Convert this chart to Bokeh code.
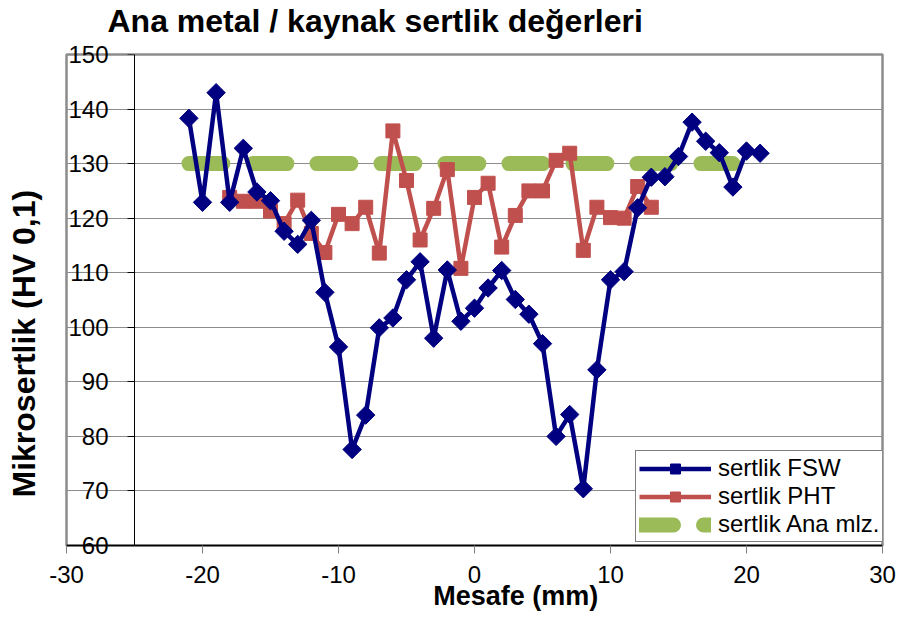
import math
from bokeh.plotting import figure
from bokeh.models import FixedTicker, Legend, LegendItem, Range1d, LinearAxis, Title
from bokeh.embed import file_html
from bokeh.resources import INLINE

# ---- data ----
fsw_x = list(range(-21, 22))
fsw_y = [138.3, 122.9, 143.0, 122.9, 132.8, 124.8, 123.2, 117.6, 115.2, 119.6,
         106.4, 96.4, 77.6, 83.9, 99.9, 101.7, 108.7, 112.0, 98.0, 110.5,
         101.1, 103.5, 107.2, 110.4, 105.1, 102.4, 97.0, 80.0, 84.0, 70.4,
         92.2, 108.7, 110.2, 121.9, 127.5, 127.6, 131.3, 137.6, 134.1, 132.0,
         125.7, 132.3, 131.9]

pht_x = list(range(-18, 14))
pht_y = [123.8, 123.1, 123.1, 121.3, 119.0, 123.3, 117.2, 113.7, 120.7, 119.0,
         122.0, 113.6, 136.0, 126.9, 116.0, 121.8, 128.9, 110.8, 123.8, 126.4,
         114.7, 120.5, 125.0, 125.0, 130.6, 131.9, 114.1, 122.0, 120.1, 120.0,
         125.8, 122.0]

ana_x = list(range(-21, 20))
ana_y = [130.0] * len(ana_x)

x_ticks = [-30, -20, -10, 0, 10, 20, 30]
y_ticks = [60, 70, 80, 90, 100, 110, 120, 130, 140, 150]

title_text = "Ana metal / kaynak sertlik değerleri"
x_label = "Mesafe (mm)"
y_label = "Mikrosertlik (HV 0,1)"
series_names = ["sertlik FSW", "sertlik PHT", "sertlik Ana mlz."]

FONT = "Liberation Sans"
X0, X1, Y0, Y1 = -30, 30, 60, 150
NAVY, RED, GREEN = "#000080", "#C0504D", "#9BBB59"

p = figure(width=898, height=613, output_backend="svg", toolbar_location=None,
           x_range=Range1d(X0, X1), y_range=Range1d(Y0, Y1),
           min_border_left=66, min_border_top=54, min_border_right=16,
           min_border_bottom=67)

p.background_fill_color = "white"
p.border_fill_color = "white"
p.outline_line_color = "#8c8c8c"
p.outline_line_width = 2.5

# spacer between frame and title
p.add_layout(Title(text=" ", text_font=FONT, text_font_size="12px",
                   standoff=0), "above")

# title
p.title.text = title_text
p.title.text_font = FONT
p.title.text_font_size = "32px"
p.title.text_font_style = "bold"
p.title.text_color = "black"
p.title.align = "left"
p.title.offset = 41
p.title.standoff = 0

# grids
p.xgrid.visible = False
p.ygrid.ticker = FixedTicker(ticks=y_ticks)
p.ygrid.grid_line_color = "#8c8c8c"
p.ygrid.grid_line_width = 1

# x axis
xa = p.xaxis[0]
xa.ticker = FixedTicker(ticks=x_ticks)
xa.major_label_overrides = {t: str(t) for t in x_ticks}
xa.axis_line_color = "black"
xa.axis_line_width = 1.5
xa.major_tick_in = 0
xa.major_tick_out = 8
xa.major_tick_line_color = "#808080"
xa.minor_tick_line_color = None
xa.major_label_text_font = FONT
xa.major_label_text_font_size = "24px"
xa.major_label_text_color = "black"
xa.major_label_standoff = 12
xa.axis_label = "\u00a0" * 11 + x_label
xa.axis_label_text_font = FONT
xa.axis_label_text_font_size = "27px"
xa.axis_label_text_font_style = "bold"
xa.axis_label_text_color = "black"
xa.axis_label_standoff = -5

# default left axis: only the tick labels, drawn inside the frame
la = p.yaxis[0]
la.ticker = FixedTicker(ticks=y_ticks)
la.major_label_overrides = {t: str(t) for t in y_ticks}
la.axis_line_color = None
la.major_tick_line_color = None
la.minor_tick_line_color = None
la.major_tick_in = 0
la.major_tick_out = 0
la.major_label_text_font = FONT
la.major_label_text_font_size = "24px"
la.major_label_text_color = "black"
la.major_label_standoff = -42

# y axis line and ticks at x = -25
ya = LinearAxis(fixed_location=-25, ticker=FixedTicker(ticks=y_ticks))
ya.axis_line_color = "black"
ya.axis_line_width = 1
ya.major_tick_in = 0
ya.major_tick_out = 7
ya.major_tick_line_color = "black"
ya.minor_tick_line_color = None
ya.major_label_text_alpha = 0
p.add_layout(ya, "left")

# spacer, then the y axis title
p.add_layout(Title(text=" ", text_font=FONT, text_font_size="20px",
                   standoff=0), "left")
p.add_layout(Title(text=y_label, align="left", offset=48,
                   standoff=0, text_font=FONT, text_font_size="32px",
                   text_font_style="bold", text_color="black"), "left")

# series
ana = p.line(ana_x, ana_y, line_color=GREEN, line_width=15,
             line_dash="34 30", line_cap="round")

pht_l = p.line(pht_x, pht_y, line_color=RED, line_width=4.5, line_join="round")
pht_m = p.scatter(pht_x, pht_y, marker="square", size=14,
                  fill_color=RED, line_color=RED)

fsw_l = p.line(fsw_x, fsw_y, line_color=NAVY, line_width=4.5, line_join="round")
fsw_m = p.scatter(fsw_x, fsw_y, marker="square", size=13, angle=math.pi / 4,
                  fill_color=NAVY, line_color=NAVY)

legend = Legend(items=[
    LegendItem(label=series_names[0], renderers=[fsw_l, fsw_m]),
    LegendItem(label=series_names[1], renderers=[pht_l, pht_m]),
    LegendItem(label=series_names[2], renderers=[ana]),
], location=(569, 3))
legend.label_text_font = FONT
legend.label_text_font_size = "24px"
legend.label_text_color = "black"
legend.glyph_width = 72
legend.glyph_height = 25
legend.label_height = 25
legend.label_width = 160
legend.label_standoff = 7
legend.spacing = 0
legend.padding = 3
legend.margin = 0
legend.border_line_color = "black"
legend.border_line_width = 1
legend.background_fill_color = "white"
legend.background_fill_alpha = 1
p.add_layout(legend, "center")

open("out.html", "w").write(file_html(p, INLINE))
